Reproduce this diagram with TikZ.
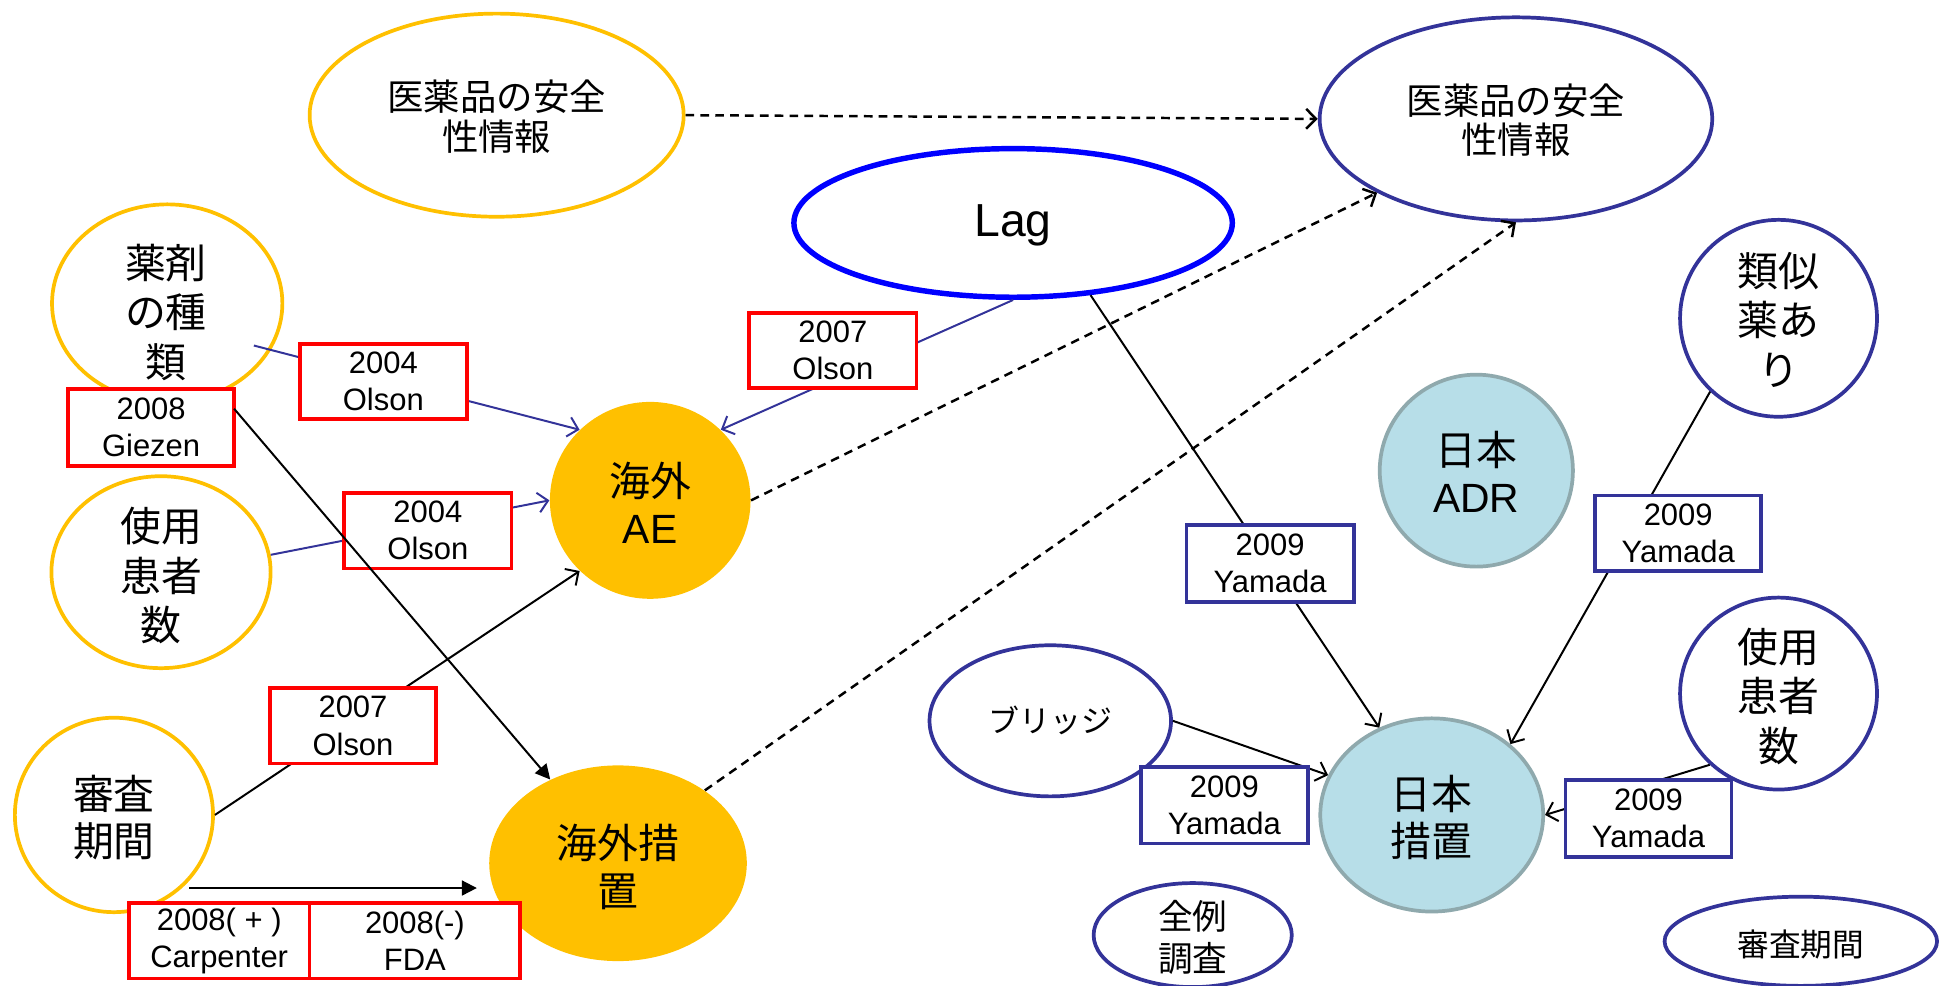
\documentclass[tikz,border=0pt]{standalone}
\usepackage{fontspec}
\setmainfont{Liberation Sans}
\newfontfamily\jpf{Noto Sans CJK JP}
\usetikzlibrary{shapes.geometric,arrows.meta}
\definecolor{gold}{RGB}{255,192,0}
\definecolor{navyc}{RGB}{51,51,153}
\definecolor{lagblue}{RGB}{0,0,255}
\definecolor{ltblue}{RGB}{183,222,232}
\definecolor{adrgray}{RGB}{143,169,173}
\definecolor{redbox}{RGB}{255,0,0}
\begin{document}
\begin{tikzpicture}[x=0.5pt,y=-0.5pt,
  yell/.style={ellipse,draw=gold,line width=1.5pt,inner sep=0pt},
  yfill/.style={ellipse,fill=gold,inner sep=0pt},
  nell/.style={ellipse,draw=navyc,line width=1.5pt,inner sep=0pt},
  lbell/.style={ellipse,draw=adrgray,fill=ltblue,line width=1.5pt,inner sep=0pt},
  lagell/.style={ellipse,draw=lagblue,line width=2.2pt,inner sep=0pt},
  boxbase/.style={rectangle,fill=white,line width=1.5pt,inner sep=0pt,align=center,
    minimum width=67.5pt,minimum height=30.5pt,font=\fontsize{12.5pt}{15pt}\selectfont},
  rbox/.style={boxbase,draw=redbox},
  nbox/.style={boxbase,draw=navyc},
  jA/.style={align=center,inner sep=0pt,font=\jpf\fontsize{14.7pt}{16pt}\selectfont},
  jB/.style={align=center,inner sep=0pt,font=\jpf\fontsize{16.5pt}{20pt}\selectfont},
  jC/.style={align=center,inner sep=0pt,font=\jpf\fontsize{16.5pt}{19pt}\selectfont},
  jD/.style={align=center,inner sep=0pt,font=\jpf\fontsize{14pt}{17pt}\selectfont},
  jE/.style={align=center,inner sep=0pt,font=\jpf\fontsize{12.5pt}{15pt}\selectfont},
  dsh/.style={draw=black,line width=1pt,dash pattern=on 3.5pt off 2.5pt,-{Straight Barb[length=4pt,width=8pt]}},
  bl/.style={draw=navyc,line width=0.8pt,-{Straight Barb[length=4pt,width=8pt]}},
  bk/.style={draw=black,line width=0.8pt,-{Straight Barb[length=4pt,width=8pt]}},
  bkf/.style={draw=black,line width=0.8pt,-{Triangle[length=6pt,width=6pt]}}
]
\useasboundingbox (0,0) rectangle (1568,796);
% ellipses
\node[yell,minimum width=151pt,minimum height=82pt] (A) at (401,93) {};
\node[jA] (At) at (401,94) {医薬品の安全\\性情報};
\node[nell,minimum width=158.5pt,minimum height=82pt] (B) at (1224,96) {};
\node[jA] (Bt) at (1224,97) {医薬品の安全\\性情報};
\node[lagell,minimum width=177pt,minimum height=60pt] (Lag) at (818,180) {};
\node[font=\fontsize{18.7pt}{20pt}\selectfont,inner sep=0pt] (Lagt) at (818,182) {Lag};
\node[yell,minimum width=93pt,minimum height=80pt] (D) at (135,245) {};
\node[jB] (Dt) at (134,252) {薬剤\\の種\\類};
\node[yfill,minimum width=81pt,minimum height=79.5pt] (AE) at (525,404) {};
\node[jC] (AEt) at (525,406) {海外\\{\rmfamily AE}};
\node[yell,minimum width=88.5pt,minimum height=77.5pt] (H) at (130,462) {};
\node[jB] (Ht) at (130,465) {使用\\患者\\数};
\node[yell,minimum width=80pt,minimum height=78.5pt] (L) at (92,658) {};
\node[jC] (Lt) at (92,660) {審査\\期間};
\node[yfill,minimum width=104pt,minimum height=79pt] (M) at (499,697) {};
\node[jC] (Mt) at (499,700) {海外措\\置};
\node[lbell,minimum width=78pt,minimum height=77.5pt] (N) at (1192,380) {};
\node[jC] (Nt) at (1192,381) {日本\\{\rmfamily ADR}};
\node[nell,minimum width=79.5pt,minimum height=79.5pt] (O) at (1436,257) {};
\node[jB] (Ot) at (1436,258) {類似\\薬あ\\り};
\node[lbell,minimum width=90pt,minimum height=78pt] (P) at (1156,658) {};
\node[jC] (Pt) at (1156,660) {日本\\措置};
\node[nell,minimum width=97.5pt,minimum height=61pt] (S) at (848,582) {};
\node[jE] (St) at (848,582) {ブリッジ};
\node[nell,minimum width=79.5pt,minimum height=77.5pt] (T) at (1436,560) {};
\node[jB] (Tt) at (1436,562) {使用\\患者\\数};
\node[nell,minimum width=80pt,minimum height=42pt] (U) at (963,755) {};
\node[jD] (Ut) at (963,757) {全例\\調査};
\node[nell,minimum width=110pt,minimum height=36pt] (V) at (1454,760) {};
\node[font=\jpf\fontsize{12.8pt}{15pt}\selectfont,inner sep=0pt] (Vt) at (1454,763) {審査期間};
% connectors
\draw[dsh] (A.east) -- (B.west);
\draw[dsh] (AE.east) -- (B.208);
\draw[dsh] (M.40) -- (B.south);
\coordinate (d1) at (205,279);
\draw[bl] (d1) -- (AE.135);
\draw[bl] (H.9) -- (AE.west);
\draw[bl] (Lag.south) -- (AE.45);
\draw[bk] (L.east) -- (AE.225);
\coordinate (h1) at (153,717);
\coordinate (h2) at (385,717);
\draw[bkf] (h1) -- (h2);
\draw[bk] (Lag.-43) -- (P.121);
\draw[bk] (O.227) -- (P.42);
\draw[bk] (S.east) -- (P.159);
\draw[bk] (T.226) -- (P.east);
% boxes
\node[rbox,minimum width=67pt,minimum height=31pt] (E) at (122,345) {2008\\Giezen};
\node[rbox] (F) at (309.5,308) {2004\\Olson};
\node[rbox] (I) at (345.5,428.5) {2004\\Olson};
\node[rbox] (J) at (672.5,283) {2007\\Olson};
\node[rbox,minimum width=67pt] (K) at (285,586) {2007\\Olson};
\node[rbox,minimum width=73pt] (C1) at (177,759.5) {2008( + )\\Carpenter};
\node[rbox,minimum width=85pt] (C2) at (335,759.5) {2008(-)\\FDA};
\node[nbox,minimum height=31pt] (Q) at (1025.5,455) {2009\\Yamada};
\node[nbox,minimum width=67pt] (R) at (1355,430.5) {2009\\Yamada};
\node[nbox,minimum height=31pt] (Sb) at (988.5,650) {2009\\Yamada};
\node[nbox,minimum width=67pt,minimum height=31pt] (Tb) at (1331,661) {2009\\Yamada};
% line drawn over the boxes
\coordinate (g1) at (189,330);
\draw[bkf] (g1) -- (M.129);
\end{tikzpicture}
\end{document}
